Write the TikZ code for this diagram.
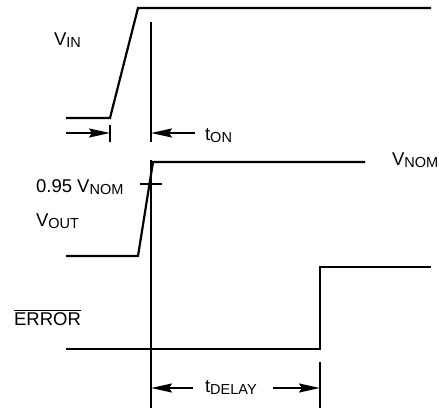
\documentclass[tikz,border=0pt]{standalone}
\usepackage{fontspec}
\setmainfont{Liberation Sans}
\usetikzlibrary{arrows.meta}
\newcommand{\lowsub}[1]{\raisebox{-2.5pt}{\fontsize{14.5}{16}\selectfont #1}}
\begin{document}
\begin{tikzpicture}[x=1pt, y=-1pt, line width=2.2pt,
    marker/.style={-{Stealth[length=21pt,width=9pt,inset=3pt]}},
    txt/.style={anchor=base west, inner sep=0pt, font=\fontsize{18.5}{22}\selectfont}]
        \useasboundingbox (0,0) rectangle (439,413);

        % Key points of the timing
        \coordinate (inrise) at (110,133);
        \coordinate (onstart) at (151,133);
        \coordinate (dstart) at (151,388);
        \coordinate (dend) at (320,388);

        % Input voltage
        \draw[line join=miter] (66,118) -- (110,118) -- (138,8) -- (431,8);

        % Output voltage
        \draw[line join=miter] (66,256) -- (138,256) -- (153,162) -- (365,162);
        \draw (140,184) -- (162,184);

        % Error flag
        \draw[line join=miter] (66,349) -- (320,349) -- (320,267) -- (431,267);

        % Reference lines
        \draw (110,125) -- (110,142);
        \draw (151,22) -- (151,142);
        \draw (151,160) -- (151,408);
        \draw (320,362) -- (320,408);

        % Labels
        \node[txt] (vin) at (53,45) {V\lowsub{IN}};
        \node[txt] (ton) at (204,140) {t\lowsub{ON}};
        \node[txt] (vnom) at (391,165) {V\lowsub{NOM}};
        \node[txt] (level) at (35,192) {0.95 V\lowsub{NOM}};
        \node[txt] (vout) at (35,226) {V\lowsub{OUT}};
        \node[txt] (error) at (13,325) {$\overline{\mbox{ERROR}}$};
        \node[txt] (tdelay) at (204,392) {t\lowsub{DELAY}};

        % Timing arrows
        \draw[marker] (66,133) -- (inrise);
        \draw[marker] (195,133) -- (onstart);
        \draw[marker] (193,388) -- (dstart);
        \draw[marker] (273,388) -- (dend);
\end{tikzpicture}
\end{document}
